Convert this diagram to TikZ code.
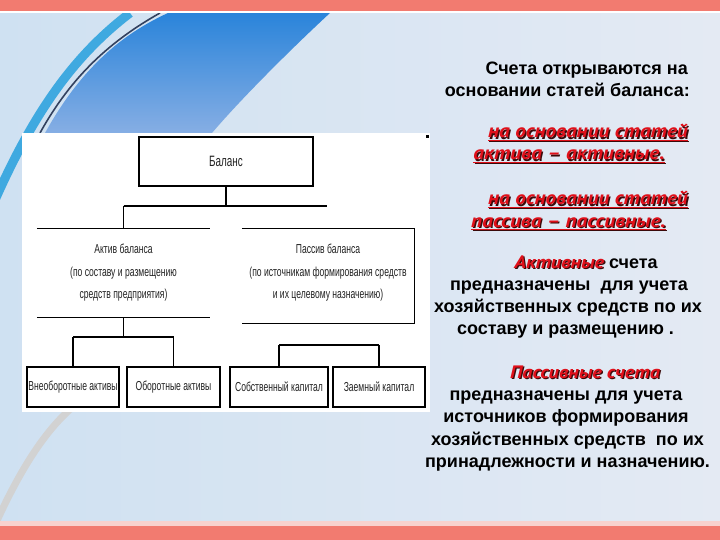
\documentclass[tikz,border=0pt]{standalone}
\usepackage{fontspec}
\setmainfont{Liberation Sans}
\newfontfamily\narrowf[FakeStretch=0.66]{Liberation Sans}
\newfontfamily\ptsans[FakeStretch=1.12]{PT Sans}
\definecolor{band}{HTML}{F27B70}
\definecolor{bandlight}{HTML}{F8D2CE}
\definecolor{redtxt}{HTML}{E0101A}
\definecolor{shcol}{HTML}{3A0A0A}
\definecolor{bgleft}{HTML}{CFE1F2}
\definecolor{bgmid}{HTML}{F5F7FA}
\definecolor{bgright}{HTML}{E4EAF3}
\definecolor{swtop}{HTML}{2A84DA}
\definecolor{swbot}{HTML}{86AEE4}
\definecolor{cyanband}{HTML}{3FA9E0}
\definecolor{navyline}{HTML}{33415F}
\definecolor{dtxt}{HTML}{222222}
\newcommand\myul[1]{\setbox0\hbox{#1}\rlap{\rule[-3.2pt]{\wd0}{1.6pt}}\box0}
\newcommand\shadowed[1]{\rlap{\kern1.3pt\raisebox{-1.3pt}{\color{shcol}#1}}{\color{redtxt}#1}}
\newcommand\redul[1]{\shadowed{\myul{#1}}}
\tikzset{
  boxn/.style={draw=black, line width=1.3pt, fill=white, inner sep=0pt, align=center,
    font=\narrowf\fontsize{13}{22.5}\selectfont, text=dtxt},
  openbox/.style={inner sep=0pt, align=center, font=\narrowf\fontsize{13}{22.5}\selectfont, text=dtxt},
  conn/.style={draw=black, line width=1.3pt},
  bodytxt/.style={anchor=base, inner sep=0pt, font=\fontsize{18}{22}\selectfont\bfseries, text=black},
  redtxtn/.style={anchor=base, inner sep=0pt, font=\ptsans\fontsize{19}{22}\selectfont\bfseries\itshape}
}
\begin{document}
\begin{tikzpicture}[x=1pt,y=-1pt]
\useasboundingbox (0,0) rectangle (720,540);
% ---------- background ----------
\shade[left color=bgleft, middle color=bgmid, right color=bgright] (0,0) rectangle (720,540);
\shade[top color=swtop, bottom color=swbot] (45,133) .. controls (80,70) and (120,35) .. (168,13) -- (330,13) .. controls (290,50) and (240,100) .. (212,133) -- cycle;
\draw[line width=9pt, cyanband] (-5,200) .. controls (35,110) and (75,55) .. (130,13);
\draw[line width=1.6pt, navyline] (40,133) .. controls (72,75) and (112,40) .. (160,13);
\draw[line width=7pt, gray!35] (-5,525) .. controls (20,470) and (45,430) .. (75,405);
\fill[band] (0,0) rectangle (720,11);
\fill[white] (0,11) rectangle (720,13);
\fill[bandlight] (0,521) rectangle (720,526);
\fill[band] (0,526) rectangle (720,540);
% ---------- panel ----------
\fill[white] (22,133) rectangle (430,412);
\fill[black] (426,135) rectangle (429,138);
% ---------- diagram ----------
\node[boxn, minimum width=174pt, minimum height=49pt, font=\narrowf\fontsize{15}{17}\selectfont] (bal) at (226,161.5) {Баланс};
\node[openbox, minimum width=173pt, minimum height=88pt] (akt) at (123.5,273)
  {Актив баланса\\(по составу и размещению\\средств предприятия)};
\node[openbox, minimum width=172pt, minimum height=88pt] (pas) at (328,273)
  {Пассив баланса\\(по источникам формирования средств\\и их целевому назначению)};
\draw[conn] (akt.north west) -- (akt.north east);
\draw[conn] (akt.south west) -- (akt.south east);
\draw[conn] (pas.north west) -- (pas.north east) -- ([yshift=-6pt]pas.south east) -- ([yshift=-6pt]pas.south west);
\node[boxn, minimum width=92pt, minimum height=40pt] (b1) at (73,387) {Внеоборотные активы};
\node[boxn, minimum width=93pt, minimum height=40pt] (b2) at (173.5,387) {Оборотные активы};
\node[boxn, minimum width=98pt, minimum height=40pt] (b3) at (279,387) {Собственный капитал};
\node[boxn, minimum width=92pt, minimum height=40pt] (b4) at (379,387) {Заемный капитал};
\coordinate (hl) at (123.5,206);
\coordinate (hr) at (327,206);
\coordinate (la) at (73,337);
\coordinate (lb) at (173.5,337);
\coordinate (ra) at (279,345);
\coordinate (rb) at (379,345);
\draw[conn] (bal.south) -- (bal.south |- hl);
\draw[conn] (hl) -- (hr);
\draw[conn] (hl) -- (akt.north);
\draw[conn] (akt.south) -- (akt.south |- la);
\draw[conn] (la) -- (lb);
\draw[conn] (la) -- (b1.north);
\draw[conn] (lb) -- (b2.north);
\draw[conn] (ra) -- (rb);
\draw[conn] (ra) -- (b3.north);
\draw[conn] (rb) -- (b4.north);
% ---------- right text ----------
\node[bodytxt, anchor=base east] (h1) at (688,75) {Счета открываются на};
\node[bodytxt, anchor=base east] (h2) at (690,97) {основании статей баланса:};
\node[redtxtn] (r1) at (588,138) {\redul{на основании статей}};
\node[redtxtn] (r2) at (569,160) {\redul{актива – активные.}};
\node[redtxtn] (r3) at (588,205) {\redul{на основании статей}};
\node[redtxtn] (r4) at (568.5,227) {\redul{пассива – пассивные.}};
\node[bodytxt] (a1) at (586,268) {{\ptsans\itshape\shadowed{Активные}} счета};
\node[bodytxt] (a2) at (569,290) {предназначены\ \ для учета};
\node[bodytxt] (a3) at (568,312) {хозяйственных средств по их};
\node[bodytxt] (a4) at (565.5,334) {составу и размещению .};
\node[bodytxt] (p1) at (585,378) {{\ptsans\itshape\shadowed{Пассивные счета}}};
\node[bodytxt] (p2) at (566,400) {предназначены для учета};
\node[bodytxt] (p3) at (566,422) {источников формирования};
\node[bodytxt] (p4) at (567.5,445) {хозяйственных средств\ \ по их};
\node[bodytxt] (p5) at (567.5,467) {принадлежности и назначению.};
\end{tikzpicture}
\end{document}
